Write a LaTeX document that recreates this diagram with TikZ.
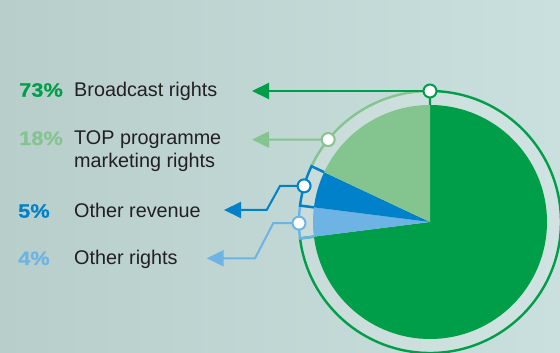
\documentclass[tikz,border=0pt]{standalone}
\usepackage{fontspec}
\setmainfont{Liberation Sans}
\newfontfamily\pctfont{Liberation Sans}[FakeStretch=1.12, BoldFeatures={FakeBold=0.6}]
\usetikzlibrary{arrows.meta}
\definecolor{cgreen}{HTML}{009E49}
\definecolor{clgreen}{HTML}{84C48F}
\definecolor{cblue}{HTML}{0081C9}
\definecolor{clblue}{HTML}{6DB4E4}
\definecolor{bgL}{HTML}{B8CECB}
\definecolor{bgR}{HTML}{CAE0DE}
\definecolor{txt}{HTML}{231F20}
\tikzset{
  pct/.style={anchor=base west, inner sep=0pt, font=\pctfont\bfseries\fontsize{19.5}{23}\selectfont},
  lbl/.style={anchor=base west, inner sep=0pt, text=txt, font=\fontsize{19.8}{23}\selectfont},
  ring/.style={line width=2.4pt, line join=miter},
  leader/.style={line width=2pt, -{Triangle[length=17pt,width=16pt]}},
  marker/.style={circle, fill=white, draw, line width=2pt, minimum size=13pt, inner sep=0pt}
}
\begin{document}
\begin{tikzpicture}[x=1pt,y=1pt]
\shade[left color=bgL, right color=bgR] (0,0) rectangle (560,353);
\useasboundingbox (0,0) rectangle (560,353);
\coordinate (C) at (430,131);
% light gap ring
\fill[white, opacity=0.12, even odd rule] (C) circle[radius=131] (C) circle[radius=117];
% slices
\fill[cgreen] (C) -- ++(90:117) arc[start angle=90, end angle=-172.8, radius=117] -- cycle;
\fill[clblue] (C) -- ++(187.2:117) arc[start angle=187.2, end angle=172.8, radius=117] -- cycle;
\fill[cblue] (C) -- ++(172.8:117) arc[start angle=172.8, end angle=154.8, radius=117] -- cycle;
\fill[clgreen] (C) -- ++(154.8:117) arc[start angle=154.8, end angle=90, radius=117] -- cycle;
% rings
\draw[ring, clgreen] ([shift={(154.8:117)}]C) -- ([shift={(154.8:131)}]C) arc[start angle=154.8, end angle=90, radius=131];
\draw[ring, cgreen] ([shift={(90:117)}]C) -- ([shift={(90:131)}]C) arc[start angle=90, end angle=-172.8, radius=131] -- ([shift={(187.2:117)}]C);
\draw[ring, clblue] ([shift={(172.8:117)}]C) -- ([shift={(172.8:131)}]C) arc[start angle=172.8, end angle=187.2, radius=131] -- ([shift={(187.2:117)}]C);
\draw[ring, cblue] ([shift={(154.8:117)}]C) -- ([shift={(154.8:131)}]C) arc[start angle=154.8, end angle=172.8, radius=131] -- ([shift={(172.8:117)}]C);
% marker positions
\coordinate (k1) at ([shift={(90:131)}]C);
\coordinate (k2) at ([shift={(141:131)}]C);
\coordinate (k3) at ([shift={(164:131)}]C);
\coordinate (k4) at ([shift={(180.5:131)}]C);
% leader end points
\coordinate (a1) at (252,262);
\coordinate (a2) at (252,213.4);
\coordinate (b3) at (280,167.1);
\coordinate (c3) at (266.7,143);
\coordinate (a3) at (224,143);
\coordinate (b4) at (273.3,129.9);
\coordinate (c4) at (255,94.7);
\coordinate (a4) at (206.7,94.7);
\draw[leader, cgreen] (k1) -- (a1);
\draw[leader, clgreen] (k2) -- (a2);
\draw[leader, cblue] (k3) -- (b3) -- (c3) -- (a3);
\draw[leader, clblue] (k4) -- (b4) -- (c4) -- (a4);
\node[marker, draw=cgreen] (m1) at (k1) {};
\node[marker, draw=clgreen] (m2) at (k2) {};
\node[marker, draw=cblue] (m3) at (k3) {};
\node[marker, draw=clblue] (m4) at (k4) {};
% texts
\node[pct, text=cgreen] (p1) at (19,256.3) {73\%};
\node[lbl] (t1) at (74,256.3) {Broadcast rights};
\node[pct, text=clgreen] (p2) at (19,208) {18\%};
\node[lbl] (t2) at (74,208) {TOP programme};
\node[lbl] (t2b) at (74,185) {marketing rights};
\node[pct, text=cblue] (p3) at (18,135.3) {5\%};
\node[lbl] (t3) at (74,135.3) {Other revenue};
\node[pct, text=clblue] (p4) at (18,88) {4\%};
\node[lbl] (t4) at (74,88) {Other rights};
\end{tikzpicture}
\end{document}
